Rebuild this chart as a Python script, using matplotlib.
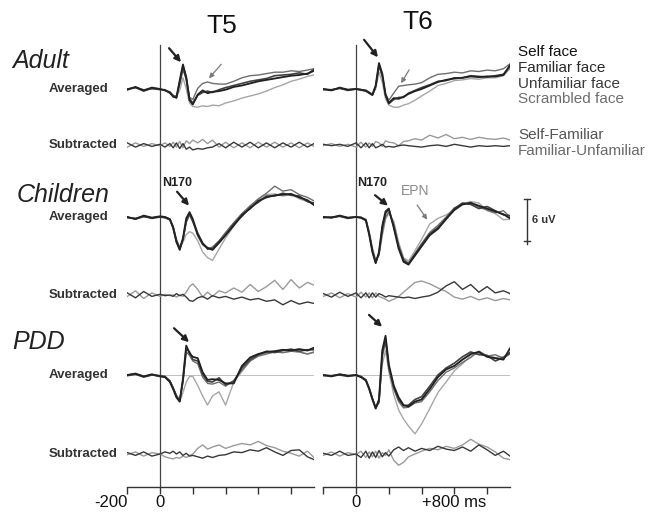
import matplotlib.pyplot as plt

# Time points (ms) shared by every trace
times = [-200, -150, -100, -50, 0, 30, 60, 80, 100, 120, 140, 160, 180, 200, 230, 260,
         290, 320, 360, 400, 450, 500, 550, 600, 650, 700, 750, 800, 850, 900, 940]

groups = ["Adult", "Children", "PDD"]
electrodes = ["T5", "T6"]
conditions = ["Self face", "Familiar face", "Unfamiliar face", "Scrambled face"]
differences = ["Self-Familiar", "Familiar-Unfamiliar"]

# Averaged ERPs in uV (negative up, as in the figure)
adult_t5_self = [0.1, -0.3, 0.2, -0.2, 0.0, 0.2, 0.5, 1.1, 1.2, -1.2, -3.5, -1.5, 1.6, 2.2, 0.8, 0.2,
                 0.6, 0.4, 0.3, 0.1, -0.3, -0.5, -0.8, -1.1, -1.3, -1.5, -1.7, -1.9, -2.0, -2.2, -2.6]
adult_t5_familiar = [0.0, -0.2, 0.3, -0.1, 0.1, 0.1, 0.6, 1.0, 1.3, -1.0, -3.3, -1.8, 1.4, 2.0, 0.9, 0.5,
                     0.3, 0.5, 0.1, -0.2, -0.5, -0.8, -1.1, -1.3, -1.5, -1.9, -2.0, -2.1, -2.3, -2.1, -2.8]
adult_t5_unfamiliar = [0.1, -0.2, 0.1, 0.0, 0.0, 0.2, 0.4, 0.9, 1.0, -0.6, -2.7, -1.4, 1.2, 1.5, -0.1, -0.8,
                       -1.0, -0.8, -0.7, -0.7, -1.1, -1.6, -1.9, -2.0, -2.2, -2.4, -2.4, -2.6, -2.5, -2.7, -2.9]
adult_t5_scrambled = [0.0, -0.2, 0.2, -0.1, 0.0, 0.2, 0.4, 0.9, 1.1, 0.2, -1.6, 0.0, 2.0, 2.5, 2.6, 2.4,
                      2.5, 2.3, 2.4, 2.0, 1.7, 1.3, 1.0, 0.7, 0.3, -0.2, -0.6, -1.1, -1.4, -1.8, -2.0]

adult_t6_self = [0.0, 0.2, -0.2, 0.1, 0.0, 0.1, 0.2, 0.5, 0.8, -0.5, -3.7, -2.2, 0.8, 2.0, 1.3, 1.4,
                 1.1, 0.7, 0.3, 0.0, -0.5, -1.0, -1.3, -1.5, -1.6, -1.8, -1.7, -1.8, -1.8, -2.0, -3.4]
adult_t6_familiar = [0.1, 0.1, -0.1, 0.2, 0.0, 0.1, 0.3, 0.6, 0.9, -0.4, -3.4, -2.0, 0.9, 2.1, 1.5, 1.2,
                     1.2, 0.6, 0.2, -0.2, -0.6, -1.1, -1.2, -1.6, -1.6, -1.9, -1.8, -1.7, -1.9, -2.1, -3.2]
adult_t6_unfamiliar = [0.0, 0.2, -0.1, 0.1, 0.0, 0.2, 0.3, 0.6, 0.8, -0.3, -3.2, -1.8, 0.7, 1.6, 0.6, -0.4,
                       -0.5, -0.6, -0.7, -0.9, -1.6, -2.1, -2.2, -2.4, -2.3, -2.6, -2.5, -2.7, -2.6, -2.9, -3.6]
adult_t6_scrambled = [0.0, 0.1, -0.1, 0.1, 0.0, 0.1, 0.3, 0.5, 0.8, 0.0, -2.4, -1.0, 1.4, 2.3, 2.6, 2.6,
                      2.3, 2.1, 1.6, 1.0, 0.3, -0.5, -0.8, -1.2, -1.3, -1.5, -1.4, -1.6, -1.6, -1.9, -2.9]

children_t5_self = [0.0, 0.3, -0.2, 0.1, -0.1, 0.0, 0.3, 1.5, 3.5, 4.7, 3.0, 0.2, -0.7, 0.3, 2.5, 3.8,
                    4.4, 4.7, 3.7, 2.6, 1.2, -0.3, -1.2, -2.3, -2.8, -3.1, -3.2, -3.3, -2.8, -2.4, -1.7]
children_t5_familiar = [0.1, 0.2, -0.1, 0.2, 0.0, 0.1, 0.4, 1.6, 3.6, 4.6, 3.2, 0.6, -0.5, 0.6, 2.3, 3.7,
                        4.6, 4.5, 3.5, 2.5, 1.0, -0.1, -1.4, -2.1, -3.0, -3.0, -3.4, -3.1, -3.0, -2.2, -2.0]
children_t5_unfamiliar = [0.0, 0.3, 0.0, 0.1, 0.0, 0.0, 0.3, 1.3, 3.2, 4.3, 3.2, 0.8, -0.3, 0.7, 2.7, 4.0,
                          4.5, 4.3, 3.4, 2.2, 0.8, -0.5, -1.6, -2.6, -3.4, -4.4, -3.7, -3.9, -3.2, -2.8, -2.3]
children_t5_scrambled = [0.0, 0.2, -0.1, 0.1, 0.0, 0.1, 0.4, 1.4, 3.3, 4.4, 3.6, 2.5, 2.1, 2.3, 3.4, 5.0,
                         5.8, 6.2, 4.6, 3.0, 1.3, -0.1, -1.4, -2.5, -3.2, -3.3, -3.0, -3.2, -2.6, -2.2, -1.8]

children_t6_self = [0.0, 0.1, -0.2, 0.1, 0.0, 0.1, 0.5, 2.5, 5.0, 6.6, 5.0, 1.3, -0.8, -1.2, 1.5, 4.5,
                    6.4, 6.8, 5.5, 4.2, 2.6, 1.7, 0.3, -1.0, -1.8, -2.0, -1.6, -1.2, -0.8, -0.4, 0.2]
children_t6_familiar = [0.1, 0.0, -0.1, 0.2, 0.0, 0.1, 0.4, 2.4, 4.9, 6.5, 5.2, 1.6, -0.5, -1.1, 1.3, 4.3,
                        6.2, 6.7, 5.3, 4.0, 2.4, 1.5, 0.2, -1.2, -2.0, -1.8, -1.2, -1.5, -0.9, -0.3, -0.2]
children_t6_unfamiliar = [0.0, 0.1, -0.1, 0.1, 0.0, 0.0, 0.4, 2.2, 4.6, 6.3, 5.4, 2.3, 0.0, -0.7, 1.0, 4.0,
                          6.0, 6.6, 5.2, 3.8, 2.2, 1.2, 0.0, -1.3, -1.8, -2.1, -1.4, -1.0, -0.6, -0.9, 0.0]
children_t6_scrambled = [0.0, 0.1, -0.2, 0.1, 0.0, 0.1, 0.3, 2.0, 4.4, 6.1, 5.5, 2.7, 0.3, -0.5, 0.6, 3.6,
                         5.8, 6.3, 4.8, 3.2, 1.0, 0.2, -0.3, -1.0, -1.9, -2.2, -2.0, -0.9, -0.5, 0.4, 0.3]

pdd_t5_self = [0.0, -0.2, 0.2, -0.1, 0.2, 0.3, 1.0, 2.0, 3.2, 3.8, 0.5, -4.2, -3.1, -2.6, -2.4, -0.4,
               0.7, 0.6, 0.7, 1.2, 1.2, -1.3, -2.5, -3.0, -3.3, -3.4, -3.6, -3.5, -3.7, -3.5, -3.9]
pdd_t5_familiar = [0.1, -0.1, 0.3, 0.0, 0.1, 0.2, 0.9, 1.9, 3.0, 3.7, 0.8, -3.8, -3.3, -2.2, -2.0, -0.1,
                   0.9, 1.0, 0.4, 1.4, 0.9, -1.0, -2.2, -2.9, -3.4, -3.2, -3.5, -3.7, -3.4, -3.6, -3.6]
pdd_t5_unfamiliar = [0.0, -0.2, 0.2, 0.0, 0.2, 0.3, 0.8, 1.8, 2.9, 3.6, 1.0, -3.3, -2.8, -2.0, -1.6, 0.3,
                     1.2, 1.3, 1.0, 1.6, 0.8, -0.7, -2.0, -2.7, -3.0, -3.3, -3.2, -3.4, -3.3, -3.0, -3.3]
pdd_t5_scrambled = [0.0, -0.1, 0.2, 0.0, 0.1, 0.2, 0.8, 1.8, 3.0, 3.8, 2.5, 1.0, 0.2, 0.2, 1.5, 3.0,
                    4.3, 3.0, 2.4, 4.3, 1.0, -0.5, -2.0, -2.8, -3.1, -3.3, -3.2, -3.4, -3.3, -3.0, -3.2]

pdd_t6_self = [0.0, 0.2, -0.1, 0.1, 0.0, 0.3, 0.8, 2.0, 3.5, 4.8, 3.5, -3.5, -5.6, -1.5, 1.5, 3.2,
               4.3, 4.5, 3.8, 3.5, 2.0, 0.3, -0.8, -1.3, -2.2, -3.0, -3.3, -2.6, -2.4, -2.2, -3.8]
pdd_t6_familiar = [0.1, 0.1, 0.0, 0.2, 0.0, 0.2, 0.7, 1.9, 3.4, 4.7, 3.8, -3.0, -5.2, -1.2, 1.8, 3.5,
                   4.4, 4.3, 3.5, 3.1, 1.6, 0.0, -1.0, -1.7, -2.6, -3.3, -2.9, -2.8, -2.0, -2.5, -3.2]
pdd_t6_unfamiliar = [0.0, 0.1, -0.1, 0.1, 0.1, 0.3, 0.7, 1.8, 3.3, 4.6, 4.0, -2.5, -4.8, -0.9, 2.0, 3.8,
                     4.7, 4.6, 4.0, 3.8, 2.4, 0.8, -0.4, -1.0, -1.8, -2.5, -3.4, -2.7, -2.9, -2.4, -3.0]
pdd_t6_scrambled = [0.0, 0.1, -0.1, 0.1, 0.0, 0.2, 0.7, 1.8, 3.3, 4.6, 3.5, -1.5, -3.5, -0.5, 2.8, 5.0,
                    6.3, 7.3, 8.4, 7.0, 4.8, 2.5, 1.0, -0.6, -1.6, -2.8, -3.1, -2.8, -2.5, -2.6, -3.2]

# Subtracted waves in uV
adult_t5_self_fam = [0.3, -0.3, 0.2, -0.2, 0.1, -0.3, 0.2, -0.4, 0.3, -0.5, 0.4, -0.6, -0.2, -0.7, -0.3, -0.8,
                     -0.2, -0.7, 0.3, -0.4, 0.4, -0.3, 0.4, -0.4, 0.3, -0.4, 0.3, -0.3, 0.4, -0.3, 0.2]
adult_t5_fam_unfam = [-0.3, 0.3, -0.2, 0.2, -0.1, 0.3, -0.2, 0.4, -0.3, 0.5, -0.2, 0.6, 0.3, 0.7, 0.5, 0.6,
                      0.4, 0.3, -0.2, 0.4, -0.4, 0.3, -0.4, 0.4, -0.3, 0.4, -0.3, 0.3, -0.4, 0.3, -0.2]
adult_t6_self_fam = [0.1, -0.2, 0.2, -0.1, 0.3, -0.4, 0.3, -0.3, 0.2, -0.5, -0.3, 0.2, -0.6, -0.4, -0.3, 0.1,
                     -0.5, -0.6, -0.9, -0.7, -1.4, -1.0, -1.5, -0.9, -1.1, -0.8, -1.1, -0.9, -0.8, -1.0, -0.7]
adult_t6_fam_unfam = [-0.1, 0.1, -0.1, 0.2, -0.3, 0.4, -0.3, 0.4, -0.2, 0.4, 0.2, -0.1, 0.3, 0.2, 0.3, 0.1,
                      0.0, 0.1, 0.2, 0.3, 0.1, 0.0, 0.2, -0.1, 0.1, 0.3, 0.1, 0.2, 0.1, 0.2, 0.1]
children_t5_self_fam = [0.2, -0.6, 0.5, -0.3, 0.2, -0.1, 0.1, 0.0, 0.3, 0.0, 0.2, -0.4, -1.2, -1.6, -0.8, 0.3,
                        -0.4, 0.2, -0.6, -0.3, -1.0, -0.4, -1.5, -0.5, -1.2, -2.1, -0.8, -2.2, -1.0, -1.8, -1.4]
children_t5_fam_unfam = [-0.3, 0.4, -0.5, 0.2, -0.1, 0.1, 0.0, 0.2, -0.2, 0.1, -0.1, 0.3, 0.8, 0.9, 0.4, 0.2,
                         0.6, 0.1, 0.4, 0.2, 0.6, 0.3, 0.7, 0.5, 0.9, 0.7, 1.4, 0.8, 1.3, 1.0, 1.2]
children_t6_self_fam = [0.2, -0.3, 0.4, -0.2, 0.3, -0.4, 0.3, -0.3, 0.4, -0.3, 0.2, 0.4, 0.6, 0.9, 0.6, 0.2,
                        -0.4, -1.0, -1.8, -2.0, -1.6, -1.0, -0.5, 0.3, 0.6, 0.2, 0.7, 0.4, 0.8, 0.5, 0.7]
children_t6_fam_unfam = [-0.2, 0.3, -0.4, 0.2, -0.3, 0.4, -0.3, 0.4, -0.3, 0.3, -0.2, 0.0, 0.3, 0.1, 0.2, 0.3,
                         0.4, 0.3, 0.5, 0.3, 0.1, -0.4, -1.3, -1.9, -0.8, -1.5, -0.4, -1.2, -0.3, -0.6, -0.2]
pdd_t5_self_fam = [0.1, -0.3, 0.3, -0.2, 0.0, 0.4, 0.6, 0.7, 0.5, 0.6, 0.3, 0.5, 0.2, 0.0, -0.8, -1.3,
                   -0.7, -1.0, -1.3, -0.8, -1.2, -1.5, -1.3, -1.8, -1.2, -0.9, -0.4, -0.1, 0.3, -0.4, 0.5]
pdd_t5_fam_unfam = [-0.2, 0.2, -0.3, 0.3, 0.0, -0.3, -0.1, -0.4, 0.0, -0.3, 0.2, -0.1, 0.3, 0.2, 0.4, 0.6,
                    0.3, 0.5, 0.2, 0.1, -0.3, -0.2, -0.6, -0.4, -0.9, -0.3, 0.2, -0.5, -0.6, 0.4, 0.8]
pdd_t6_self_fam = [0.2, -0.3, 0.3, -0.2, 0.1, -0.4, 0.5, -0.3, 0.4, -0.4, 0.6, -0.2, 0.2, -0.6, 0.9, 1.6,
                   1.2, 0.4, 0.0, -0.4, -0.8, -0.6, -1.1, -0.8, -1.3, -2.1, -1.4, -1.0, -0.3, 0.6, 0.8]
pdd_t6_fam_unfam = [-0.1, 0.2, -0.4, 0.2, 0.0, 0.5, -0.4, 0.6, -0.3, 0.5, -0.5, 0.4, -0.2, 0.3, -0.6, -1.0,
                    -0.5, -0.9, -0.4, -0.8, -0.5, -1.1, -0.7, -0.5, -1.0, -0.4, -1.3, -0.6, 0.2, -0.4, 0.3]

averaged = {
    ("Adult", "T5"): [adult_t5_self, adult_t5_familiar, adult_t5_unfamiliar, adult_t5_scrambled],
    ("Adult", "T6"): [adult_t6_self, adult_t6_familiar, adult_t6_unfamiliar, adult_t6_scrambled],
    ("Children", "T5"): [children_t5_self, children_t5_familiar, children_t5_unfamiliar, children_t5_scrambled],
    ("Children", "T6"): [children_t6_self, children_t6_familiar, children_t6_unfamiliar, children_t6_scrambled],
    ("PDD", "T5"): [pdd_t5_self, pdd_t5_familiar, pdd_t5_unfamiliar, pdd_t5_scrambled],
    ("PDD", "T6"): [pdd_t6_self, pdd_t6_familiar, pdd_t6_unfamiliar, pdd_t6_scrambled],
}
subtracted = {
    ("Adult", "T5"): [adult_t5_self_fam, adult_t5_fam_unfam],
    ("Adult", "T6"): [adult_t6_self_fam, adult_t6_fam_unfam],
    ("Children", "T5"): [children_t5_self_fam, children_t5_fam_unfam],
    ("Children", "T6"): [children_t6_self_fam, children_t6_fam_unfam],
    ("PDD", "T5"): [pdd_t5_self_fam, pdd_t5_fam_unfam],
    ("PDD", "T6"): [pdd_t6_self_fam, pdd_t6_fam_unfam],
}

# Layout (pixels of the 648x513 figure)
W, H = 648, 513
PX_PER_UV = 7.0
AX_TOP, AX_BOTTOM = 30, 487
avg_rows = [89, 217, 375]
sub_rows = [145, 295, 454]
ax_left = {"T5": 127.3, "T6": 323.3}
ax_width = 186.7

cond_colors = ["#222222", "#424242", "#6e6e6e", "#a6a6a6"]
cond_widths = [1.35, 1.2, 1.0, 1.0]
diff_colors = ["#9a9a9a", "#383838"]

plt.rcParams["font.family"] = ["Liberation Sans", "DejaVu Sans"]


def fx(x):
    return x / W


def fy(y):
    return 1 - y / H


def row_offset(py):
    return (py - AX_TOP) / PX_PER_UV


fig = plt.figure(figsize=(W / 100, H / 100), dpi=100)
ylim_bottom = (AX_BOTTOM - AX_TOP) / PX_PER_UV
axes = {}
for el in electrodes:
    ax = fig.add_axes([fx(ax_left[el]), fy(AX_BOTTOM), ax_width / W, (AX_BOTTOM - AX_TOP) / H])
    ax.set_xlim(-200, 940)
    ax.set_ylim(ylim_bottom, 0)
    for side in ["top", "right", "left"]:
        ax.spines[side].set_visible(False)
    ax.spines["bottom"].set_color("#333333")
    ax.spines["bottom"].set_linewidth(1.0)
    ax.set_yticks([])
    ax.set_xticks([-200, 0, 200, 400, 600, 800])
    ax.tick_params(axis="x", direction="out", length=5, width=1.0, color="#333333",
                   pad=1, labelsize=12, labelcolor="#111111")
    ax.patch.set_alpha(0)
    # stimulus onset line
    ax.plot([0, 0], [row_offset(45), ylim_bottom], color="#444444", lw=0.9, zorder=1)
    # thin reference baseline in PDD averaged
    ax.plot([-200, 940], [row_offset(avg_rows[2])] * 2, color="#b5b5b5", lw=0.6, zorder=1)
    axes[el] = ax

axes["T5"].set_xticklabels(["-200", "0", "", "", "", ""])
axes["T5"].get_xticklabels()[0].set_ha("right")
axes["T6"].set_xticklabels(["", "0", "", "", "+800 ms", ""])

for gi, g in enumerate(groups):
    for el in electrodes:
        ax = axes[el]
        base = row_offset(avg_rows[gi])
        waves = averaged[(g, el)]
        for ci in range(len(conditions) - 1, -1, -1):
            ax.plot(times, [base + v for v in waves[ci]], color=cond_colors[ci],
                    lw=cond_widths[ci], zorder=3 + (3 - ci))
        base = row_offset(sub_rows[gi])
        for di, wave in enumerate(subtracted[(g, el)]):
            ax.plot(times, [base + v for v in wave], color=diff_colors[di], lw=1.0, zorder=3)

# Electrode titles
fig.text(fx(222), fy(26), "T5", fontsize=19, ha="center", va="center", color="#111111")
fig.text(fx(418), fy(22), "T6", fontsize=19, ha="center", va="center", color="#111111")

# Group and row labels
group_label_y = [61, 195, 342]
group_label_x = [12, 17, 12]
for gi, g in enumerate(groups):
    fig.text(fx(group_label_x[gi]), fy(group_label_y[gi]), g, fontsize=18, style="italic",
             ha="left", va="center", color="#222222")
    fig.text(fx(49), fy(avg_rows[gi]), "Averaged", fontsize=9.5, fontweight="bold",
             ha="left", va="center", color="#333333")
    fig.text(fx(49), fy(sub_rows[gi]), "Subtracted", fontsize=9.5, fontweight="bold",
             ha="left", va="center", color="#333333")

# Condition labels at right
legend_y = [52, 68, 84, 99]
legend_colors = ["#111111", "#2a2a2a", "#3a3a3a", "#6e6e6e"]
for ci, name in enumerate(conditions):
    fig.text(fx(518), fy(legend_y[ci]), name, fontsize=11, ha="left", va="center",
             color=legend_colors[ci])
diff_y = [135, 151]
diff_text_colors = ["#555555", "#6a6a6a"]
for di, name in enumerate(differences):
    fig.text(fx(518), fy(diff_y[di]), name, fontsize=11, ha="left", va="center",
             color=diff_text_colors[di])

# Component arrows
dark_arrow = dict(arrowstyle="-|>", color="#222222", lw=1.6, mutation_scale=9, shrinkA=0, shrinkB=0)
gray_arrow = dict(arrowstyle="-|>", color="#7a7a7a", lw=0.9, mutation_scale=7, shrinkA=0, shrinkB=0)
a5, a6 = axes["T5"], axes["T6"]
a5.annotate("", xy=(128, 4.6), xytext=(55, 2.6), arrowprops=dark_arrow)
a5.annotate("", xy=(299, 6.9), xytext=(373, 4.9), arrowprops=gray_arrow)
a6.annotate("", xy=(134, 3.9), xytext=(49, 1.4), arrowprops=dark_arrow)
a6.annotate("", xy=(275, 7.6), xytext=(324, 5.7), arrowprops=gray_arrow)
a5.annotate("", xy=(177, 25.1), xytext=(104, 23.1), arrowprops=dark_arrow)
a5.text(104, 21.9, "N170", fontsize=9, fontweight="bold", ha="center", va="center", color="#222222")
a6.annotate("", xy=(195, 25.1), xytext=(116, 23.6), arrowprops=dark_arrow)
a6.text(98, 21.9, "N170", fontsize=9, fontweight="bold", ha="center", va="center", color="#222222")
a6.annotate("", xy=(434, 27.1), xytext=(373, 25.0), arrowprops=gray_arrow)
a6.text(360, 23.0, "EPN", fontsize=10, ha="center", va="center", color="#8a8a8a")
a5.annotate("", xy=(177, 44.6), xytext=(85, 42.6), arrowprops=dark_arrow)
a6.annotate("", xy=(159, 42.4), xytext=(79, 40.7), arrowprops=dark_arrow)

# 6 uV scale bar (negative up)
bar_x = 1044
bar_top = row_offset(199)
bar_bottom = bar_top + 6
a6.plot([bar_x, bar_x], [bar_top, bar_bottom + 0.4], color="#333333", lw=1.0, clip_on=False)
a6.plot([bar_x - 18, bar_x + 18], [bar_top, bar_top], color="#333333", lw=1.0, clip_on=False)
a6.plot([bar_x - 18, bar_x + 18], [bar_bottom, bar_bottom], color="#333333", lw=1.0, clip_on=False)
a6.text(bar_x + 32, (bar_top + bar_bottom) / 2, "6 uV", fontsize=8, fontweight="bold",
        ha="left", va="center", color="#333333", clip_on=False)

fig.savefig("out.png", dpi=100, facecolor="white")
